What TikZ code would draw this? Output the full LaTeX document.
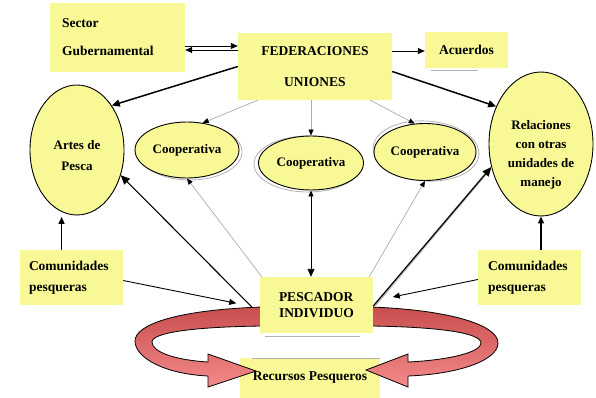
\documentclass[tikz,border=0pt]{standalone}
\usepackage{fontspec}
\setmainfont{Liberation Serif}
\usetikzlibrary{shapes.geometric,arrows.meta,calc}
\definecolor{yel}{RGB}{248,248,150}
\definecolor{rdark}{RGB}{200,78,78}
\definecolor{rlight}{RGB}{244,138,138}
\begin{document}
\begin{tikzpicture}[x=1pt,y=-1pt,
  box/.style={fill=yel, inner sep=0pt, font=\fontsize{13.5}{15}\selectfont\bfseries},
  ell/.style={ellipse, draw=black, line width=0.9pt, fill=yel, inner sep=0pt, align=center, font=\fontsize{13}{19}\selectfont\bfseries},
  shad/.style={ellipse, draw=gray!60, line width=0.8pt, inner sep=0pt},
  arr/.style={-{Triangle[length=7pt,width=6pt]}, line width=0.9pt},
  tarr/.style={-{Triangle[length=8pt,width=7pt]}, line width=1.5pt},
  garr/.style={draw=gray!65, line width=0.7pt, -{Triangle[length=6pt,width=5pt,color=black]}},
  gline/.style={draw=gray!60, line width=0.8pt},
  rib/.style={draw=black, line width=0.8pt, top color=rdark, bottom color=rlight}]
\useasboundingbox (0,0) rectangle (596,398);
\fill[white] (0,0) rectangle (596,398);

% boxes
\node[box, minimum width=135pt, minimum height=69pt, text width=111pt, align=left] (sec) at (117.5,37.5) {Sector\\[13pt]Gubernamental};
\node[box, minimum width=154pt, minimum height=67pt, align=center] (fed) at (315,66.5) {FEDERACIONES\\[16pt]UNIONES};
\node[box, minimum width=83pt, minimum height=36pt] (acu) at (466.5,50) {Acuerdos};
\node[box, minimum width=140pt, minimum height=40pt] (rec) at (310,378) {Recursos Pesqueros};
\node[box, minimum width=103pt, minimum height=55pt, text width=85pt, align=left] (cl) at (71.5,277.5) {Comunidades\\[6pt]pesqueras};
\node[box, minimum width=103pt, minimum height=55pt, text width=83pt, align=left] (cr) at (529.5,277.5) {Comunidades\\[6pt]pesqueras};

\draw[gline] (252,358) -- (380,358);
\draw[gline] (431,70) -- (478,70);

% red circular arrows
\draw[rib] (262,307) .. controls (175,310) and (135,325) .. (135,341) .. controls (135,358) and (165,374) .. (208,376) -- (208,387) -- (256,371) -- (208,354) -- (208,362) .. controls (175,360) and (152,352) .. (152,342) .. controls (152,333) and (190,327) .. (262,326) -- cycle;
\draw[rib] (371,307) .. controls (450,310) and (498,325) .. (498,343) .. controls (498,360) and (460,374) .. (408,376) -- (408,387) -- (366,370) -- (408,354) -- (408,362) .. controls (450,360) and (481,352) .. (481,343) .. controls (481,333) and (440,327) .. (371,326) -- cycle;

\node[box, minimum width=113pt, minimum height=56pt, align=left] (pes) at (316.5,305) {PESCADOR\\[1pt]INDIVIDUO};
\draw[gline] (265,336) -- (360,336);

% ellipses
\node[shad, minimum width=104pt, minimum height=56pt] (c1s) at (190,152) {};
\node[shad, minimum width=108pt, minimum height=56pt] (c2s) at (308,164) {};
\node[shad, minimum width=106pt, minimum height=60pt, rotate=-4] (c3s) at (426,151) {};
\node[ell, minimum width=94pt, minimum height=130pt] (art) at (77,150) {\rule{0pt}{20pt}Artes de\\[2pt]Pesca};
\node[ell, minimum width=104pt, minimum height=56pt] (c1) at (187,150) {Cooperativa};
\node[ell, minimum width=105pt, minimum height=54pt] (c2) at (311,163) {Cooperativa};
\node[ell, minimum width=102pt, minimum height=57pt] (c3) at (425,152) {Cooperativa};
\node[ell, minimum width=104pt, minimum height=144pt] (rel) at (541,144) {\rule{0pt}{30pt}Relaciones\\con otras\\unidades de\\manejo};

% connectors
\draw[arr] ($(sec.east)+(0,8.5)$) -- ($(fed.west)+(0,-20.5)$);
\draw[arr] ($(fed.west)+(0,-16.5)$) -- ($(sec.east)+(0,12.5)$);
\draw[arr] ($(fed.east)+(0,-15.5)$) -- ($(acu.west)+(0,1)$);
\draw[tarr] (fed.west) -- (art.52);
\draw[tarr] ($(fed.east)+(0,5)$) -- (rel.140);
\draw[garr] ($(fed.south west)+(20,0)$) -- (c1.60);
\draw[garr] (c2.north |- fed.south) -- (c2.north);
\draw[garr] ($(fed.south east)+(-22,0)$) -- (c3.110);
\draw[arr, {Triangle[length=6pt,width=5pt]}-{Triangle[length=8pt,width=7pt]}] (c2.south) -- (c2.south |- pes.north);
\draw[garr] ($(pes.north west)+(2,0)$) -- (c1.south);
\draw[garr] ($(pes.north east)+(-4,0)$) -- (c3.south);
\draw[arr, line width=1.1pt, -{Triangle[length=9pt,width=8pt]}] ($(pes.west)+(-8,2)$) -- (art.-30);
\draw[draw=gray!60, line width=2.4pt] ($(pes.east)+(1,1)$) -- (rel.205);
\draw[arr, line width=1.1pt, -{Triangle[length=9pt,width=8pt]}] ($(pes.east)+(0,1)$) -- (rel.205);
\draw[arr, line width=1.2pt, shorten >=5pt] (cl.north -| art.-104) -- (art.-104);
\draw[arr, shorten >=24pt] ($(cl.east)+(0,3)$) -- ($(pes.west)+(0,3)$);
\draw[arr, line width=1.2pt] (cr.north -| rel.south) -- (rel.south);
\draw[arr, shorten >=20pt] ($(cr.west)+(0,2)$) -- ($(pes.east)+(0,-4)$);
\end{tikzpicture}
\end{document}
